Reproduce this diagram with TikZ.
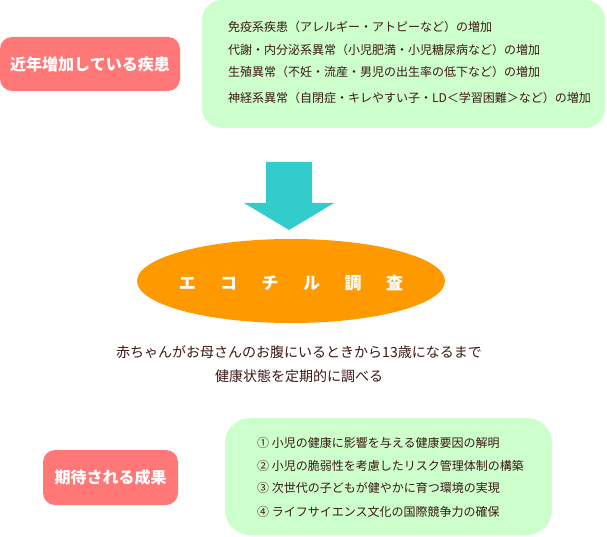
\documentclass[tikz,border=0pt]{standalone}
\usepackage{fontspec}
\setmainfont{Noto Sans CJK JP}
\usetikzlibrary{shapes.geometric}
\definecolor{tagred}{HTML}{FF7777}
\definecolor{boxgreen}{HTML}{CCFFCC}
\definecolor{arrowcyan}{HTML}{33CCCC}
\definecolor{ecoorange}{HTML}{FF9900}
\definecolor{txtbrown}{RGB}{60,24,20}
\tikzset{
  tagbox/.style={fill=tagred, rounded corners=12pt, inner sep=0pt, text=white,
     font=\fontsize{16}{18}\selectfont\bfseries},
  greenbox/.style={fill=boxgreen, inner sep=0pt},
  itemtxt/.style={anchor=west, inner sep=0pt, text=txtbrown, font=\fontsize{12}{14}\selectfont},
  midtxt/.style={align=center, inner sep=0pt, text=txtbrown, font=\fontsize{14}{24}\selectfont},
}
\newcommand{\ecogap}{\hspace{24.5pt}}
\begin{document}
\begin{tikzpicture}[x=1pt,y=-1pt]
\useasboundingbox (0,0) rectangle (607,537);
% top green box
\node[greenbox, rounded corners=20pt, minimum width=403pt, minimum height=128pt] (topbox) at (403.5,64) {};
\node[itemtxt] (t1) at (228,27) {免疫系疾患（アレルギー・アトピーなど）の増加};
\node[itemtxt] (t2) at (228,50) {代謝・内分泌系異常（小児肥満・小児糖尿病など）の増加};
\node[itemtxt] (t3) at (228,72) {生殖異常（不妊・流産・男児の出生率の低下など）の増加};
\node[itemtxt] (t4) at (228,98) {神経系異常（自閉症・キレやすい子・LD＜学習困難＞など）の増加};
% left red tag
\node[tagbox, minimum width=180pt, minimum height=54pt] (tag1) at (90,64) {近年増加している疾患};
% arrow
\fill[arrowcyan] (266,162) -- (312,162) -- (312,203) -- (334,203) -- (289,230) -- (244,203) -- (266,203) -- cycle;
% ellipse
\node[ellipse, fill=ecoorange, inner sep=0pt, minimum width=308pt, minimum height=84pt] (eco) at (291,281) {};
\node[inner sep=0pt, text=white, font=\fontsize{17}{19}\selectfont\bfseries] (ecotxt) at (291,283)
  {エ\ecogap コ\ecogap チ\ecogap ル\ecogap 調\ecogap 査};
% middle text
\node[midtxt] (mid) at (299,364) {赤ちゃんがお母さんのお腹にいるときから13歳になるまで\\健康状態を定期的に調べる};
% bottom red tag
\node[tagbox, minimum width=135pt, minimum height=55pt] (tag2) at (110.5,477.5) {期待される成果};
% bottom green box
\node[greenbox, rounded corners=25pt, minimum width=327pt, minimum height=117pt] (botbox) at (388.5,476.5) {};
\node[itemtxt] (b1) at (257,443) {① 小児の健康に影響を与える健康要因の解明};
\node[itemtxt] (b2) at (257,466) {② 小児の脆弱性を考慮したリスク管理体制の構築};
\node[itemtxt] (b3) at (257,488) {③ 次世代の子どもが健やかに育つ環境の実現};
\node[itemtxt] (b4) at (257,512) {④ ライフサイエンス文化の国際競争力の確保};
\end{tikzpicture}
\end{document}
